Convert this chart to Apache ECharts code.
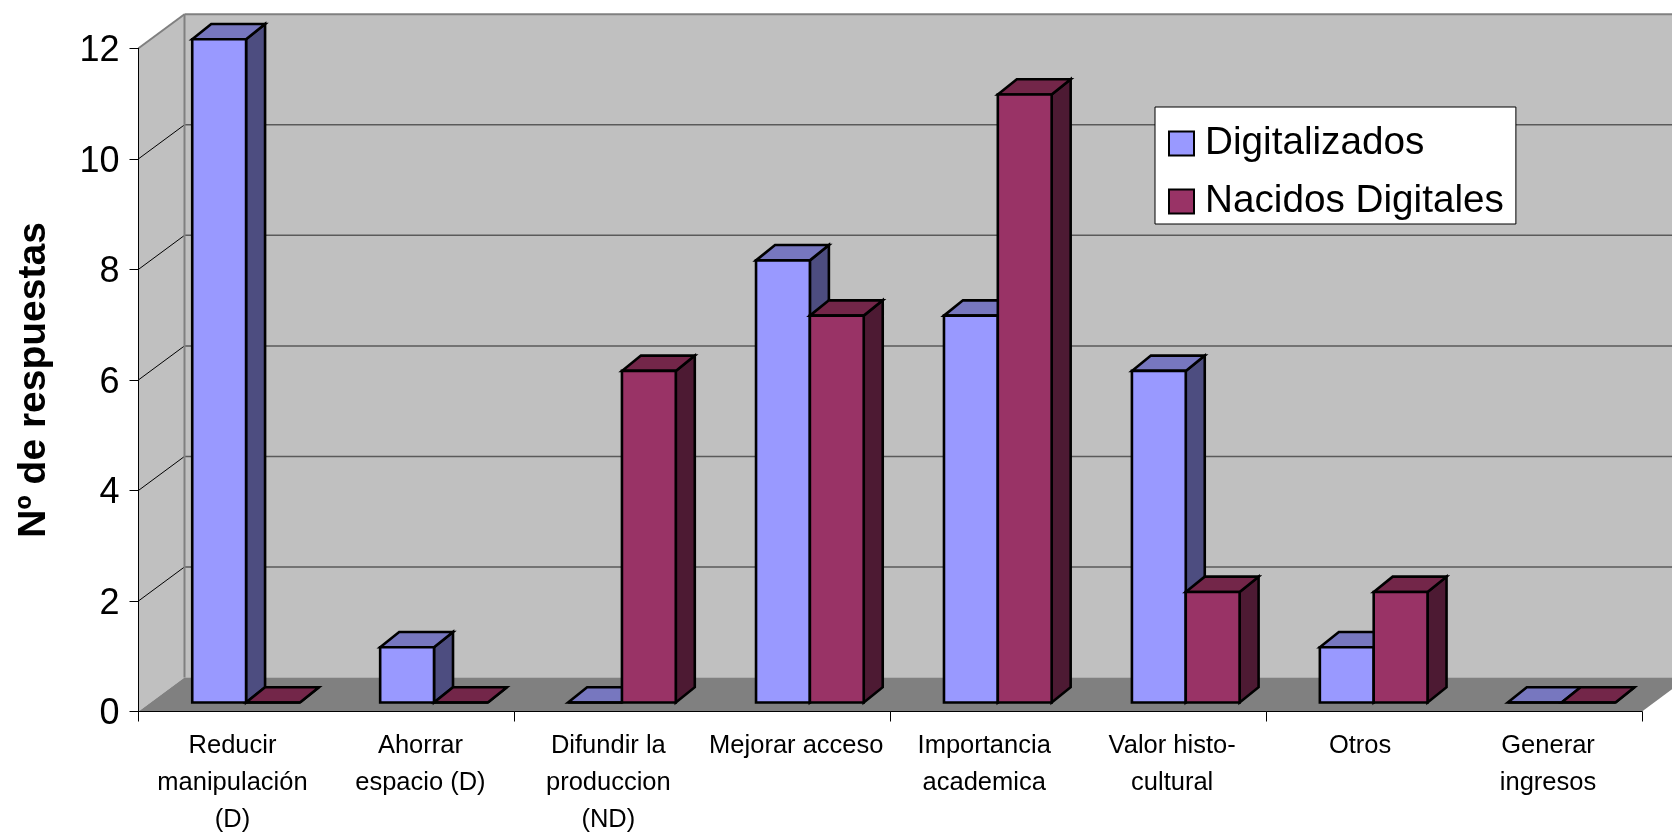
<!DOCTYPE html>
<html>
<head>
<meta charset="utf-8">
<style>html,body{margin:0;padding:0;background:#fff}#c{width:1672px;height:832px}</style>
<script src="https://cdn.jsdelivr.net/npm/echarts@6/dist/echarts.min.js"></script>
</head>
<body>
<div id="c"></div>
<script>
var categories = ['Reducir\nmanipulación\n(D)', 'Ahorrar\nespacio (D)', 'Difundir la\nproduccion\n(ND)', 'Mejorar acceso', 'Importancia\nacademica', 'Valor histo-\ncultural', 'Otros', 'Generar\ningresos'];
var digitalizados = [12, 1, 0, 8, 7, 6, 1, 0];
var nacidos = [0, 0, 6, 7, 11, 2, 2, 0];
var yTicks = [2, 4, 6, 8, 10, 12];

var FONT = '"Liberation Sans", Arial, sans-serif';
var WALL_DX = 46, WALL_DY = 34;
var BAR_SHIFT_X = 13.6, BAR_SHIFT_Y = 9;
var BAR_DX = 19, BAR_DY = 15.3;
var BAR_FRAC = 0.2865;

function poly(points, fill, stroke, w) {
  return { type: 'polygon', shape: { points: points }, style: { fill: fill, stroke: stroke || null, lineWidth: w || 0, lineJoin: 'miter' } };
}
function line(x1, y1, x2, y2, color, w) {
  return { type: 'line', shape: { x1: x1, y1: y1, x2: x2, y2: y2 }, style: { stroke: color, lineWidth: w, fill: null } };
}

function renderWalls(params, api) {
  var band = api.size([1, 0])[0];
  var n = categories.length;
  var left = api.coord([0, 0])[0] - band / 2;
  var right = api.coord([n - 1, 0])[0] + band / 2;
  var y0 = api.coord([0, 0])[1];
  var yMax = api.coord([0, 12])[1];
  var dx = WALL_DX, dy = WALL_DY;
  var kids = [
    poly([[left, yMax], [left + dx, yMax - dy], [left + dx, y0 - dy], [left, y0]], '#C0C0C0'),
    poly([[left + dx, yMax - dy], [right + dx, yMax - dy], [right + dx, y0 - dy], [left + dx, y0 - dy]], '#C0C0C0'),
    poly([[left, y0], [left + dx, y0 - dy], [right + dx, y0 - dy], [right, y0]], '#808080')
  ];
  yTicks.forEach(function (t) {
    var y = api.coord([0, t])[1];
    if (t < 12) {
      kids.push(line(left, y, left + dx, y - dy, '#000000', 1));
      kids.push(line(left + dx, y - dy, right + dx, y - dy, '#5a5a5a', 1.5));
    }
  });
  kids.push(line(left, yMax, left + dx, yMax - dy, '#808080', 2));
  kids.push(line(left + dx, yMax - dy, right + dx, yMax - dy, '#808080', 2));
  kids.push(line(left + dx, yMax - dy, left + dx, y0 - dy, '#808080', 2));
  return { type: 'group', children: kids };
}

function barRenderer(seriesIndex, front, side, top) {
  return function (params, api) {
    var cat = api.value(0), val = api.value(1);
    var band = api.size([1, 0])[0];
    var w = band * BAR_FRAC;
    var base = api.coord([cat, 0]);
    var head = api.coord([cat, val]);
    var x0 = base[0] + BAR_SHIFT_X + (seriesIndex - 1) * w;
    var x1 = x0 + w;
    var yb = base[1] - BAR_SHIFT_Y;
    var yt = head[1] - BAR_SHIFT_Y;
    var dx = BAR_DX, dy = BAR_DY, lw = 2.6;
    return {
      type: 'group',
      children: [
        poly([[x1, yb], [x1 + dx, yb - dy], [x1 + dx, yt - dy], [x1, yt]], side, '#000', lw),
        poly([[x0, yt], [x0 + dx, yt - dy], [x1 + dx, yt - dy], [x1, yt]], top, '#000', lw),
        poly([[x0, yb], [x1, yb], [x1, yt], [x0, yt]], front, '#000', lw)
      ]
    };
  };
}

function rows(values) { return values.map(function (v, i) { return [i, v]; }); }

var chart = echarts.init(document.getElementById('c'), null, { renderer: 'canvas', width: 1672, height: 832 });
chart.setOption({
  animation: false,
  backgroundColor: '#ffffff',
  grid: { left: 138.5, right: 30, top: 48.3, bottom: 120.5, containLabel: false, outerBoundsMode: 'none' },
  legend: {
    orient: 'vertical', left: 1155, top: 107,
    padding: [17, 12, 3, 13],
    backgroundColor: '#ffffff', borderColor: '#000000', borderWidth: 1, borderRadius: 0,
    itemWidth: 25, itemHeight: 24, itemGap: 19,
    icon: 'rect', selectedMode: false, z: 20,
    itemStyle: { borderColor: '#000000', borderWidth: 2 },
    textStyle: { fontFamily: FONT, fontSize: 38.7, color: '#000000', lineHeight: 24, padding: [0, 0, 0, 6] },
    data: ['Digitalizados', 'Nacidos Digitales']
  },
  xAxis: {
    type: 'category', data: categories, z: 5,
    axisLine: { show: true, lineStyle: { color: '#000', width: 1 } },
    axisTick: { show: true, length: 10, inside: false, alignWithLabel: false,
      interval: function (i) { return i % 2 === 0; },
      lineStyle: { color: '#000', width: 1 } },
    axisLabel: { interval: 0, margin: 16, fontFamily: FONT, fontSize: 25.5, lineHeight: 37, color: '#000', hideOverlap: false },
    splitLine: { show: false }
  },
  yAxis: {
    type: 'value', min: 0, max: 12, interval: 2, z: 5,
    name: 'Nº de respuestas', nameLocation: 'middle', nameGap: 85, nameRotate: 90,
    nameTextStyle: { fontFamily: FONT, fontSize: 39, fontWeight: 'bold', color: '#000' },
    axisLine: { show: true, lineStyle: { color: '#000', width: 1 } },
    axisTick: { show: true, length: 9, lineStyle: { color: '#000', width: 1 } },
    axisLabel: { margin: 19, fontFamily: FONT, fontSize: 36, color: '#000', verticalAlign: 'top', lineHeight: 6 },
    splitLine: { show: false }
  },
  series: [
    { type: 'custom', name: 'walls', z: 1, silent: true, renderItem: renderWalls, data: [[0, 0]], encode: { x: 0, y: 1 } },
    { type: 'custom', name: 'Digitalizados', z: 2, renderItem: barRenderer(0, '#9999FF', '#4D4D80', '#7777BF'),
      itemStyle: { color: '#9999FF' }, data: rows(digitalizados), encode: { x: 0, y: 1 } },
    { type: 'custom', name: 'Nacidos Digitales', z: 3, renderItem: barRenderer(1, '#993366', '#4D1A33', '#732649'),
      itemStyle: { color: '#993366' }, data: rows(nacidos), encode: { x: 0, y: 1 } }
  ]
});
</script>
</body>
</html>
